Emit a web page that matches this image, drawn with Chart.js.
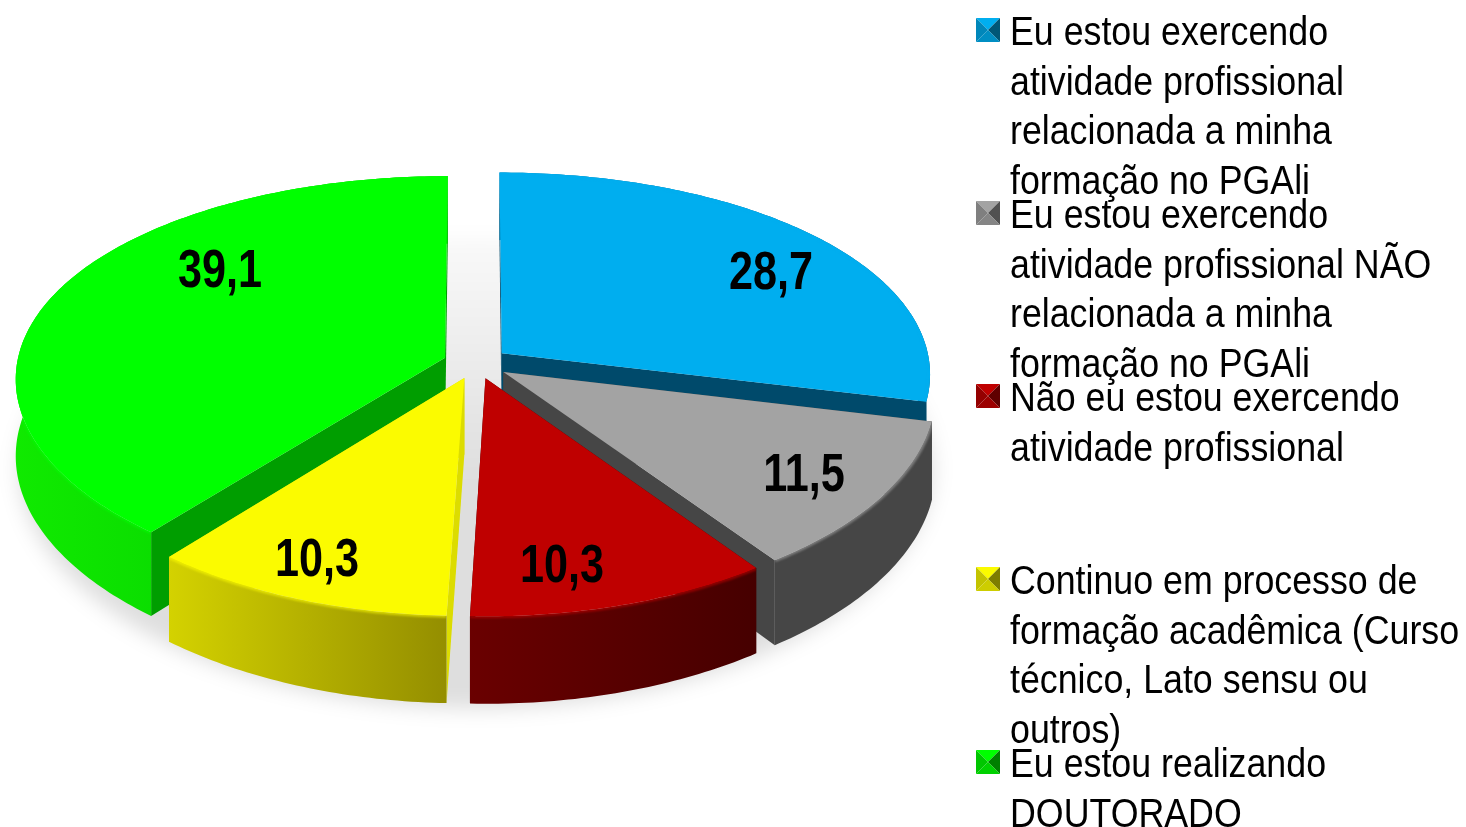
<!DOCTYPE html>
<html lang="pt">
<head>
<meta charset="utf-8">
<title>Situação profissional</title>
<style>html,body{margin:0;padding:0;background:#fff}canvas{display:block}</style>
<script src="https://cdn.jsdelivr.net/npm/chart.js@4"></script>
</head>
<body>
<canvas id="c" width="1466" height="827"></canvas>
<script>
const categories = [
  "Eu estou exercendo atividade profissional relacionada a minha formação no PGAli",
  "Eu estou exercendo atividade profissional NÃO relacionada a minha formação no PGAli",
  "Não eu estou exercendo atividade profissional",
  "Continuo em processo de formação acadêmica (Curso técnico, Lato sensu ou outros)",
  "Eu estou realizando DOUTORADO"
];
const values = [28.7, 11.5, 10.3, 10.3, 39.1];
const valueLabels = ["28,7", "11,5", "10,3", "10,3", "39,1"];
const legendLines = [
  ["Eu estou exercendo", "atividade profissional", "relacionada a minha", "formação no PGAli"],
  ["Eu estou exercendo", "atividade profissional NÃO", "relacionada a minha", "formação no PGAli"],
  ["Não eu estou exercendo", "atividade profissional"],
  ["Continuo em processo de", "formação acadêmica (Curso", "técnico, Lato sensu ou", "outros)"],
  ["Eu estou realizando", "DOUTORADO"]
];
const topColors = ["#00aeef", "#a3a3a3", "#bf0000", "#fbfb00", "#00ff00"];
const wallLeft = ["#0078a8", "#464646", "#6a0000", "#d4d200", "#10ea00"];
const wallRight = ["#004a6b", "#464646", "#460000", "#948e00", "#00c400"];
const cutColors = ["#004a6b", "#464646", "#460000", "#dcdc00", "#009e00"];
const labelAnchors = [[771, 274], [804, 476], [562, 567], [317, 561], [220, 272]];
const drawOrder = [0, 4, 1, 3, 2];

const view = { cx: 476, cy: 363, rx: 428, ry: 205, perspX: 0.098, perspY: 0.122, depth: 76, explode: 0.077 };
function project(u, v, lower) {
  const wx = 1 - view.perspX * v, wy = 1 - view.perspY * v;
  return [view.cx + view.rx * u / wx, view.cy + view.ry * v / wy + (lower ? view.depth / wy : 0)];
}
function poly(ctx, pts) {
  ctx.beginPath();
  pts.forEach((p, i) => i ? ctx.lineTo(p[0], p[1]) : ctx.moveTo(p[0], p[1]));
  ctx.closePath();
}
function sliceGeom(el) {
  const a0 = el.startAngle, a1 = el.endAngle, mid = (a0 + a1) / 2;
  const ox = Math.cos(mid) * view.explode, oy = Math.sin(mid) * view.explode;
  const n = Math.max(4, Math.ceil((a1 - a0) / 0.015));
  const rim = [];
  for (let i = 0; i <= n; i++) {
    const a = a0 + (a1 - a0) * i / n;
    rim.push([Math.cos(a) + ox, Math.sin(a) + oy]);
  }
  return { apex: [ox, oy], rim };
}
const pie3d = {
  id: 'pie3d',
  beforeDatasetsDraw(chart) {
    const ctx = chart.ctx;
    const arcs = chart.getDatasetMeta(0).data;
    const geoms = arcs.map(el => sliceGeom(el.getProps(['startAngle', 'endAngle'], true)));

    // soft floor shadow, faint at the back and denser at the front
    ctx.save();
    ctx.filter = 'blur(10px)';
    const sh = ctx.createLinearGradient(0, 260, 0, 480);
    sh.addColorStop(0, 'rgba(0,0,0,0.03)');
    sh.addColorStop(1, 'rgba(0,0,0,0.13)');
    ctx.fillStyle = sh;
    const ring = [];
    for (let i = 0; i < 180; i++) {
      const a = i / 180 * Math.PI * 2;
      ring.push(project(Math.cos(a) * 1.06, Math.sin(a) * 1.07 + 0.02, true));
    }
    poly(ctx, ring); ctx.fill();
    ctx.restore();

    drawOrder.forEach(i => {
      const g = geoms[i];
      const top = g.rim.map(p => project(p[0], p[1], false));
      const low = g.rim.map(p => project(p[0], p[1], true));
      const apexT = project(g.apex[0], g.apex[1], false);
      const apexB = project(g.apex[0], g.apex[1], true);

      // straight cut walls
      ctx.fillStyle = cutColors[i];
      poly(ctx, [apexT, top[0], low[0], apexB]); ctx.fill();
      poly(ctx, [apexT, top[top.length - 1], low[low.length - 1], apexB]); ctx.fill();

      // curved outer wall
      const xs = top.map(p => p[0]);
      const grad = ctx.createLinearGradient(Math.min(...xs), 0, Math.max(...xs), 0);
      grad.addColorStop(0, wallLeft[i]);
      grad.addColorStop(1, wallRight[i]);
      ctx.fillStyle = grad;
      poly(ctx, top.concat(low.slice().reverse())); ctx.fill();

      // top face
      ctx.fillStyle = topColors[i];
      poly(ctx, [apexT].concat(top)); ctx.fill();

      // soft bevel where the top meets the wall
      ctx.save();
      poly(ctx, top.concat(low.slice().reverse())); ctx.clip();
      ctx.filter = 'blur(1.2px)';
      ctx.strokeStyle = topColors[i];
      ctx.globalAlpha = 0.6;
      ctx.lineWidth = 4;
      ctx.beginPath();
      top.forEach((p, k) => k ? ctx.lineTo(p[0], p[1]) : ctx.moveTo(p[0], p[1]));
      ctx.stroke();
      ctx.restore();
    });

    // value labels
    ctx.save();
    ctx.fillStyle = '#000';
    ctx.textAlign = 'center';
    ctx.textBaseline = 'middle';
    valueLabels.forEach((t, i) => {
      ctx.save();
      ctx.translate(labelAnchors[i][0], labelAnchors[i][1]);
      ctx.scale(0.8, 1);
      ctx.font = 'bold 54px "Liberation Sans", Arial, sans-serif';
      ctx.fillText(t, 0, 0);
      ctx.restore();
    });
    ctx.restore();

    return false;
  },
  afterDraw(chart) {
    const ctx = chart.ctx;
    const step = 183, lineStep = 49.7, boxX = 976, boxY = 18, box = 24, textX = 1010, base = 45;
    const shade = (hex, f) => {
      const n = parseInt(hex.slice(1), 16);
      return `rgb(${(n >> 16) * f | 0},${((n >> 8) & 255) * f | 0},${(n & 255) * f | 0})`;
    };
    legendLines.forEach((lines, i) => {
      const y = boxY + i * step, c = [boxX + box / 2, y + box / 2];
      const tl = [boxX, y], tr = [boxX + box, y], br = [boxX + box, y + box], bl = [boxX, y + box];
      const col = topColors[i];
      ctx.save();
      ctx.filter = 'blur(0.6px)';
      [[tl, tr, 1], [tl, bl, 0.78], [tr, br, 0.5], [bl, br, 0.82]].forEach(s => {
        ctx.fillStyle = shade(col, s[2]);
        poly(ctx, [s[0], s[1], c]); ctx.fill();
      });
      ctx.restore();
      ctx.fillStyle = '#000';
      ctx.textAlign = 'left';
      ctx.textBaseline = 'alphabetic';
      lines.forEach((t, k) => {
        ctx.save();
        ctx.translate(textX, base + i * step + k * lineStep);
        ctx.scale(0.872, 1);
        ctx.font = '41px "Liberation Sans", Arial, sans-serif';
        ctx.fillText(t, 0, 0);
        ctx.restore();
      });
    });
  }
};
new Chart(document.getElementById('c'), {
  type: 'pie',
  data: { labels: categories, datasets: [{ data: values, backgroundColor: topColors, borderWidth: 0 }] },
  options: {
    responsive: false,
    animation: false,
    rotation: 0,
    plugins: { legend: { display: false }, tooltip: { enabled: false }, title: { display: false } }
  },
  plugins: [pie3d]
});
</script>
</body>
</html>
